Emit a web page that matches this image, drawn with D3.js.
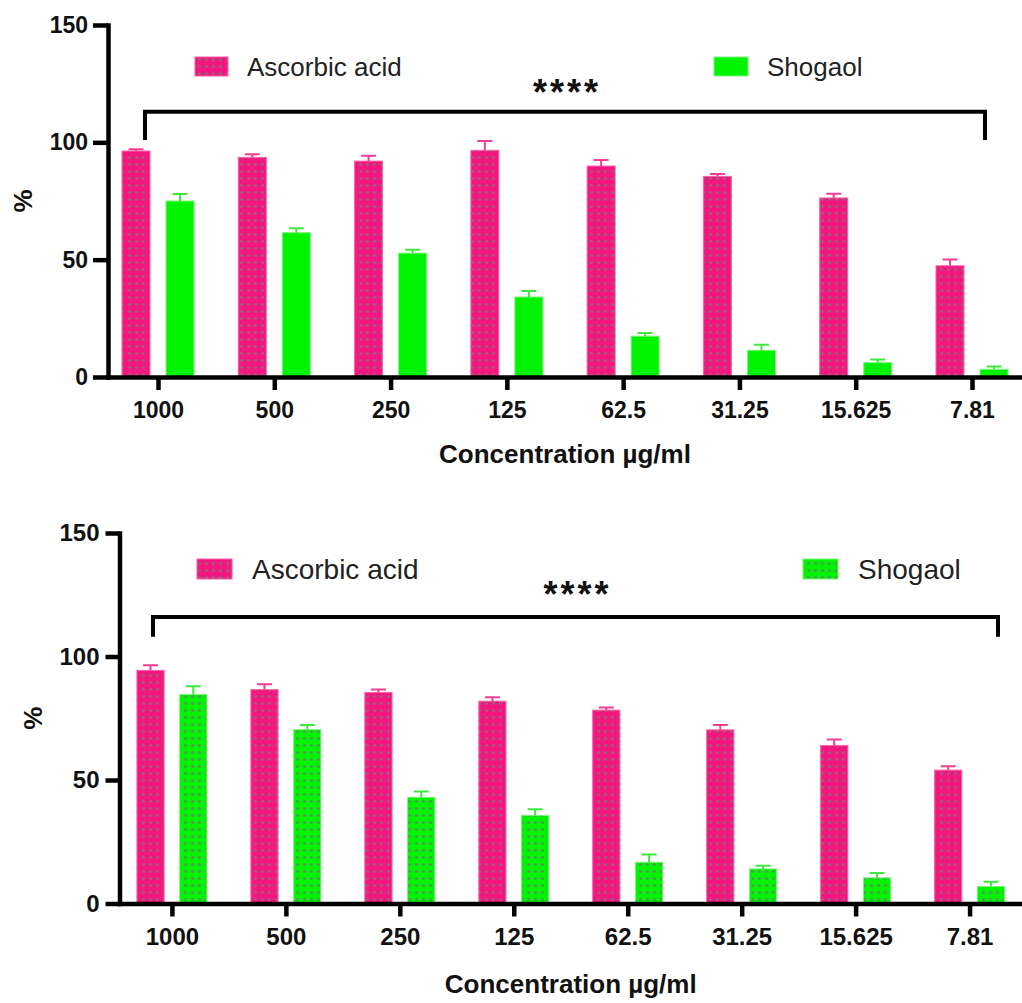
<!DOCTYPE html>
<html>
<head>
<meta charset="utf-8">
<script src="https://cdn.jsdelivr.net/npm/d3@7"></script>
<style>
  body { margin: 0; background: #fff; }
  text { font-family: "Liberation Sans", Arial, sans-serif; }
</style>
</head>
<body>
<div id="wrapper"></div>
<script>
// categories and values
const concentrations = ["1000", "500", "250", "125", "62.5", "31.25", "15.625", "7.81"];
const yTicks = [0, 50, 100, 150];
const seriesNames = ["Ascorbic acid", "Shogaol"];

// top panel
const ascorbicTop = [96.3, 93.6, 92.0, 96.6, 89.9, 85.5, 76.3, 47.4];
const ascorbicTopErr = [0.7, 1.3, 2.3, 4.0, 2.6, 1.0, 1.8, 2.7];
const shogaolTop = [75.0, 61.5, 52.8, 34.1, 17.4, 11.4, 6.1, 3.3];
const shogaolTopErr = [3.0, 1.9, 1.4, 2.5, 1.4, 2.3, 1.4, 1.2];

// bottom panel
const ascorbicBottom = [94.4, 86.6, 85.4, 81.9, 78.3, 70.3, 64.0, 54.0];
const ascorbicBottomErr = [2.1, 2.2, 1.2, 1.6, 1.1, 2.0, 2.4, 1.6];
const shogaolBottom = [84.6, 70.4, 43.0, 35.7, 16.7, 14.0, 10.4, 6.9];
const shogaolBottomErr = [3.4, 1.9, 2.3, 2.5, 3.1, 1.3, 1.9, 1.9];

const significance = "****";
const xTitle = "Concentration µg/ml";
const yTitle = "%";

const width = 1022, height = 1003;
const pink = "#f3177f", green = "#00f300";

const svg = d3.select("#wrapper")
    .append("svg")
    .attr("width", width)
    .attr("height", height);

const defs = svg.append("defs");
function addDots(id, color) {
    const p = defs.append("pattern")
        .attr("id", id)
        .attr("patternUnits", "userSpaceOnUse")
        .attr("width", 7)
        .attr("height", 7);
    p.append("rect").attr("width", 7).attr("height", 7).attr("fill", color);
    p.append("circle").attr("cx", 3.5).attr("cy", 3.5).attr("r", 1.3).attr("fill", "#787878");
}
addDots("dotsPink", pink);
addDots("dotsGreen", green);

function drawPanel(cfg) {
    const g = svg.append("g");

    const y = d3.scaleLinear().domain([0, 150]).range([cfg.yZero, cfg.yTop]);
    const x = d3.scalePoint().domain(concentrations).range([cfg.axisX, width]).padding(cfg.xPad);
    const sub = d3.scaleBand().domain(seriesNames)
        .range([-cfg.groupHalf, cfg.groupHalf]).paddingInner(0.364);

    const series = [
        { name: seriesNames[0], values: cfg.asc, err: cfg.ascErr, fill: "url(#dotsPink)", stroke: "#f763a8", errColor: "#ef3f92" },
        { name: seriesNames[1], values: cfg.sho, err: cfg.shoErr, fill: cfg.greenDotted ? "url(#dotsGreen)" : green, stroke: "#7cf37c", errColor: "#3fe83f" }
    ];

    series.forEach((s) => {
        const rows = concentrations.map((c, i) => ({ c: c, v: s.values[i], e: s.err[i] }));
        const sg = g.append("g");
        sg.selectAll("rect").data(rows).join("rect")
            .attr("x", (d) => x(d.c) + sub(s.name))
            .attr("y", (d) => y(d.v))
            .attr("width", sub.bandwidth())
            .attr("height", (d) => y(0) - y(d.v))
            .attr("fill", s.fill)
            .attr("stroke", s.stroke)
            .attr("stroke-width", 1);

        sg.selectAll("path").data(rows).join("path")
            .attr("d", (d) => {
                const cx = x(d.c) + sub(s.name) + sub.bandwidth() / 2;
                const top = y(d.v + d.e);
                return `M${cx},${y(d.v)}V${top}M${cx - 7.5},${top}H${cx + 7.5}`;
            })
            .attr("fill", "none")
            .attr("stroke", s.errColor)
            .attr("stroke-width", 2);
    });

    // axes
    const yAxis = g.append("g")
        .attr("transform", `translate(${cfg.axisX},0)`)
        .call(d3.axisLeft(y).tickValues(yTicks).tickSize(cfg.yTick).tickSizeOuter(0).tickPadding(cfg.yPad));
    const xAxis = g.append("g")
        .attr("transform", `translate(0,${cfg.yZero})`)
        .call(d3.axisBottom(x).tickSize(13).tickSizeOuter(0).tickPadding(cfg.xPadLabel));

    [yAxis, xAxis].forEach((a) => {
        a.attr("font-family", null).attr("font-size", null);
        a.select(".domain").attr("stroke", "#000").attr("stroke-width", 4.5).attr("stroke-linecap", "square");
        a.selectAll(".tick line").attr("stroke", "#000").attr("stroke-width", 4.5);
        a.selectAll(".tick text")
            .attr("fill", "#111")
            .style("font-size", cfg.tickFont + "px")
            .style("font-weight", "bold");
    });

    // axis titles
    g.append("text")
        .attr("x", (cfg.axisX + width) / 2)
        .attr("y", cfg.titleY)
        .attr("text-anchor", "middle")
        .attr("fill", "#111")
        .style("font-size", "26px")
        .style("font-weight", "bold")
        .text(xTitle);

    g.append("text")
        .attr("transform", `translate(${cfg.pctX},${(cfg.yZero + cfg.yTop) / 2}) rotate(-90)`)
        .attr("text-anchor", "middle")
        .attr("dominant-baseline", "central")
        .attr("fill", "#111")
        .style("font-size", "26px")
        .style("font-weight", "bold")
        .text(yTitle);

    // significance bracket
    const b = cfg.bracket;
    g.append("path")
        .attr("d", `M${b.left},${y(b.leg)}V${y(b.level)}H${b.right}V${y(b.leg)}`)
        .attr("fill", "none")
        .attr("stroke", "#000")
        .attr("stroke-width", 4);
    g.append("text")
        .attr("x", (b.left + b.right) / 2 + 2)
        .attr("y", y(b.stars))
        .attr("text-anchor", "middle")
        .attr("fill", "#111")
        .style("font-size", "36px")
        .style("font-weight", "bold")
        .style("letter-spacing", "3px")
        .text(significance);

    // legend
    series.forEach((s, i) => {
        const l = cfg.legend[i];
        g.append("rect")
            .attr("x", l.x).attr("y", l.y)
            .attr("width", l.w).attr("height", l.h)
            .attr("fill", s.fill)
            .attr("stroke", s.stroke)
            .attr("stroke-width", 1);
        g.append("text")
            .attr("x", l.x + l.w + cfg.legendGap)
            .attr("y", l.y + l.h)
            .attr("fill", "#222")
            .style("font-size", cfg.legendFont + "px")
            .text(s.name);
    });
}

drawPanel({
    axisX: 108, yTop: 25, yZero: 377, xPad: 0.43, groupHalf: 36,
    yTick: 15, yPad: 5, xPadLabel: 12, tickFont: 23,
    titleY: 463, pctX: 23,
    asc: ascorbicTop, ascErr: ascorbicTopErr, sho: shogaolTop, shoErr: shogaolTopErr,
    greenDotted: false,
    bracket: { left: 145, right: 985, level: 113, leg: 101, stars: 116 },
    legend: [{ x: 195, y: 57, w: 33, h: 19 }, { x: 714, y: 57, w: 34, h: 19 }],
    legendGap: 19, legendFont: 26
});

drawPanel({
    axisX: 119.5, yTop: 533, yZero: 903.5, xPad: 0.46, groupHalf: 35,
    yTick: 14, yPad: 6, xPadLabel: 11.5, tickFont: 24,
    titleY: 993, pctX: 33,
    asc: ascorbicBottom, ascErr: ascorbicBottomErr, sho: shogaolBottom, shoErr: shogaolBottomErr,
    greenDotted: true,
    bracket: { left: 153, right: 998, level: 116, leg: 108, stars: 120 },
    legend: [{ x: 197, y: 559, w: 35, h: 20 }, { x: 803, y: 559, w: 35, h: 20 }],
    legendGap: 20, legendFont: 28
});
</script>
</body>
</html>
